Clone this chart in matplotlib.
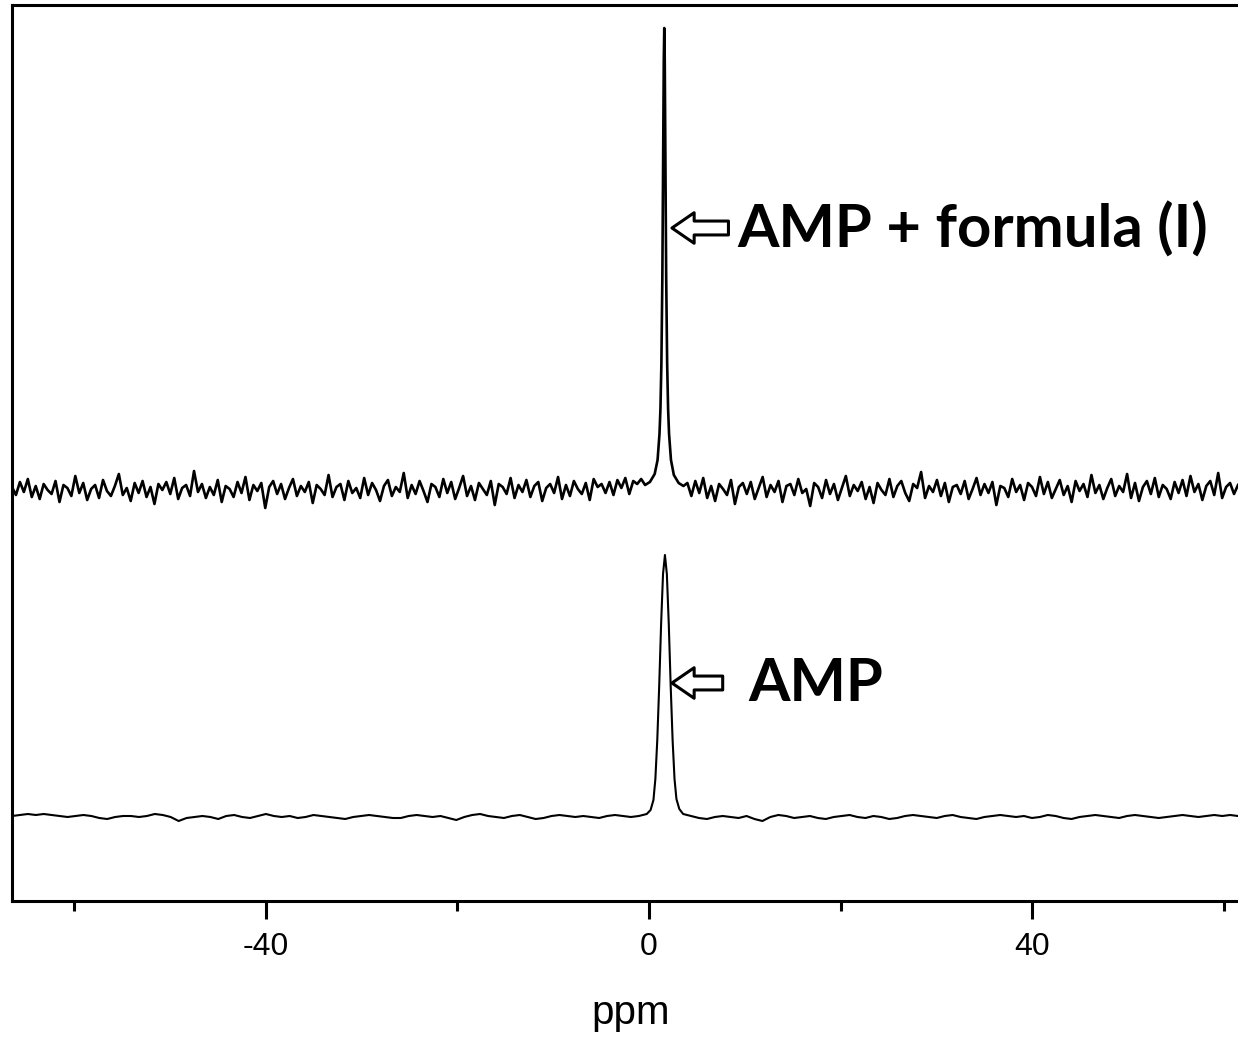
import numpy as np
import matplotlib
matplotlib.use('Agg')
import matplotlib.pyplot as plt
from matplotlib.patches import FancyArrowPatch

# ppm range shown
x_left = -66.5
x_right = 61.5

# --- top trace: AMP + formula (I) ---
top_base = 411
top_peak_ppm = 1.6
# peak shape (offset in ppm, height above baseline)
top_peak_dx = [-2.0, -1.5, -1.0, -0.7, -0.5, -0.4, -0.3, -0.2, -0.15, -0.1, -0.05, 0.0,
               0.05, 0.1, 0.15, 0.2, 0.3, 0.4, 0.5, 0.7, 1.0, 1.5, 2.0]
top_peak_h = [5, 8, 16, 30, 56, 81, 127, 213, 279, 358, 430, 462,
              430, 358, 279, 213, 127, 81, 56, 30, 15, 7, 4]
# baseline noise, left and right of the peak (px-ish units)
top_noise_left = [3, -5, 8, -2, 11, -7, 4, -9, 6, 0, -4, 9, -12, 5, 2, -6, 14, -3, 7, -10,
                  1, 5, -8, 10, -1, -6, 4, 16, -5, 2, -11, 7, -3, 9, -7, 3, -14, 6, 0, 8,
                  -4, 12, -9, 2, 5, -6, 19, -2, 6, -8, 3, -5, 10, -12, 4, 1, -7, 8, -3, 13,
                  -10, 5, -1, 7, -18, 3, 9, -4, 6, -9, 2, 11, -6, 4, -2, 8, -13, 5, 1, -5,
                  15, -7, 3, 6, -10, 9, -3, 2, -8, 12, -5, 7, 0, -11, 4, 10, -6, 3, -2, 17,
                  -8, 5, -4, 9, -1, -12, 6, 3, -7, 11, -3, 8, -9, 2, 14, -6, 4, -10, 7, 1,
                  -5, 9, -15, 6, 3, -4, 12, -8, 5, -2, 10, -7, 4, 8, -11, 2, 6, -3, 13, -9,
                  5, -6, 9, 1, -4, 7, -10, 11, 3, 6, -3, 8, -5, 10, 2, 12, -4, 9, 6, 11]
top_noise_right = [7, -6, 9, -3, 12, -8, 4, -11, 6, 1, -5, 10, -14, 3, 7, -4, 8, -9, 2, 13,
                   -7, 5, -2, 9, -12, 4, 6, -5, 11, -3, 1, -16, 7, 3, -8, 10, -4, 6, -10, 2,
                   14, -6, 5, -1, 8, -9, 3, -13, 7, 0, -5, 11, -7, 4, 9, -3, -11, 6, 2, 18,
                   -8, 4, -2, 10, -6, 7, -12, 3, 5, -4, 9, -9, 1, 12, -5, 6, -3, 8, -15, 4,
                   2, -7, 11, -2, 5, -10, 7, 3, -6, 13, -4, 8, -8, 1, 10, -5, 4, -12, 9, -1,
                   6, -7, 15, -3, 5, -9, 2, 11, -6, 4, -2, 16, -8, 7, -11, 3, 9, -4, 12, -7,
                   5, 1, -9, 8, -3, 10, -6, 14, -2, 6, -10, 4, 9, -5, 17, -8, 3, 7, -4, 5]

# --- bottom trace: AMP ---
bot_base = 84
bot_peak_ppm = 1.67
bot_peak_dx = [-1.9, -1.5, -1.2, -1.0, -0.8, -0.6, -0.4, -0.2, 0.0,
               0.2, 0.4, 0.6, 0.8, 1.0, 1.2, 1.5, 1.9]
bot_peak_h = [3, 7, 17, 38, 77, 131, 193, 243, 262,
              243, 193, 131, 77, 38, 18, 8, 3]
bot_noise_left = [1, 2, 3, 2, 3, 2, 1, 0, 1, 2, 1, -1, -2, 0, 1, 1, 0, 1, 3, 2,
                  0, -4, -1, 0, 1, 0, -2, 1, 2, 0, -1, 1, 3, 1, 0, 1, -1, 0, 2, 1,
                  0, -1, -2, 0, 1, 2, 1, 0, -1, -1, 1, 2, 1, 0, 1, -1, -3, 0, 2, 3,
                  1, 0, -1, 1, 2, 0, -2, -1, 1, 2, 1, 0, 1, 0, -1, 1, 2, 1, 0, 1]
bot_noise_right = [1, -1, -2, 0, 1, 0, -1, 1, -2, -4, 0, 2, 1, -1, 0, 1, -1, -2, 0, 1,
                   2, 0, -1, 1, 0, -2, -1, 1, 2, 1, 0, -1, 1, 2, 0, -1, -2, 0, 1, 2,
                   1, 0, 1, -1, 0, 2, 1, -1, -2, 0, 1, 2, 1, 0, -1, 1, 2, 1, 0, -1,
                   0, 1, 2, 1, 0, 1, 2, 1, 2, 1]


def build_trace(base, peak_ppm, dx, h, noise_l, noise_r):
    dx = np.array(dx)
    xl = np.linspace(x_left, peak_ppm + dx[0], len(noise_l), endpoint=False)
    xr = np.linspace(peak_ppm + dx[-1], x_right, len(noise_r) + 1)[1:]
    x = np.concatenate([xl, peak_ppm + dx, xr])
    y = np.concatenate([np.array(noise_l), np.array(h), np.array(noise_r)]) + base
    return x, y


x_top, y_top = build_trace(top_base, top_peak_ppm, top_peak_dx, top_peak_h,
                           top_noise_left, top_noise_right)
x_bot, y_bot = build_trace(bot_base, bot_peak_ppm, bot_peak_dx, bot_peak_h,
                           bot_noise_left, bot_noise_right)

fig = plt.figure(figsize=(12.38, 10.37), dpi=100)
ax = fig.add_axes([12 / 1238, 136 / 1037, 1 - 12 / 1238, 896 / 1037])

ax.plot(x_top, y_top, color='black', lw=1.9)
ax.plot(x_bot, y_bot, color='black', lw=1.5)

ax.set_xlim(x_left, x_right)
ax.set_ylim(0, 896)

ax.spines['right'].set_visible(False)
for s in ['left', 'top', 'bottom']:
    ax.spines[s].set_linewidth(2.2)
ax.set_yticks([])
ax.set_xticks([-40, 0, 40])
ax.set_xticklabels(['-40', '0', '40'], fontfamily='Liberation Sans', fontsize=23)
ax.set_xticks([-60, -20, 20, 60], minor=True)
ax.tick_params(axis='x', which='major', length=13, width=2.2, pad=9)
ax.tick_params(axis='x', which='minor', length=7, width=2.2)

fig.text(631 / 1238, 1 - 1013 / 1037, 'ppm', fontfamily='Liberation Sans',
         fontsize=29, ha='center', va='center')

# labels with hollow arrows
lab_font = dict(fontfamily='Lato', fontweight='bold', fontsize=43)
ax.text(9.2, 653, 'AMP + formula (I)', ha='left', va='baseline', **lab_font)
ax.text(10.35, 200, 'AMP', ha='left', va='baseline', **lab_font)

arrow_style = 'simple,head_width=1.1,head_length=0.8,tail_width=0.5'
for tail_x, tip_x, yy in [(8.3, 2.4, 673), (7.7, 2.4, 218)]:
    arr = FancyArrowPatch((tail_x, yy), (tip_x, yy), arrowstyle=arrow_style,
                          mutation_scale=20, facecolor='white', edgecolor='black',
                          lw=2.2, shrinkA=0, shrinkB=0)
    ax.add_patch(arr)

plt.savefig('out.png', dpi=100)
